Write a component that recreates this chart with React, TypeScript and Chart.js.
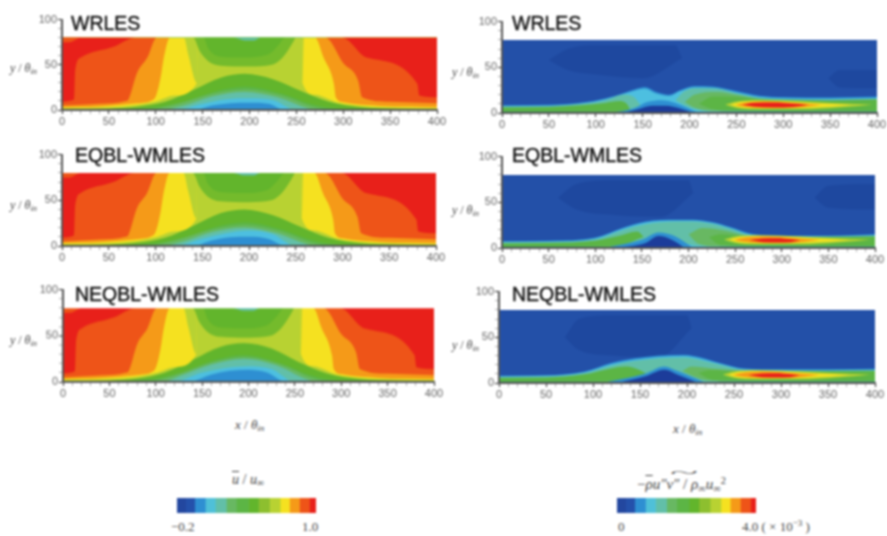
import React, { useEffect, useRef } from "react";
import { Chart, registerables } from "chart.js";
Chart.register(...registerables);

type P = [number, number];
type Layer = { c: string; up: P[]; to?: number; low?: P[] };

const C0 = "#1c3c9a", C1 = "#2350a8", CB = "#1e489f", C2 = "#2e8fd2", C3 = "#4dbfe0", C4 = "#62bfa8", C5 = "#68b862",
  C6 = "#5cb545", C7 = "#62b52c", C8 = "#74bb2c", C9 = "#b8d232", C10 = "#f5e120", C11 = "#f59a18", C12 = "#ee5418", C13 = "#e8201a";
const barColors = ["#23479f", "#2451ab", C2, "#4fc0d8", C4, C5, C6, C7, "#8dbf2f", C9, C10, C11, C12, C13];
const uEdges = [-0.2, -0.125, -0.047, 0.045, 0.131, 0.226, 0.312, 0.418, 0.504, 0.599, 0.691, 0.771, 0.857, 0.943, 1.0];
const stressEdges = [0, 0.25, 0.51, 0.82, 1.11, 1.43, 1.72, 2.07, 2.36, 2.68, 2.99, 3.26, 3.55, 3.84, 4.0];

/* mean velocity: outer contour lines */
const yellowLow: P[] = [[0,2],[50,3],[80,5.5],[100,9.5],[120,16],[144,30],[144.5,80],[256,80],[256.5,30],[270,17],[295,8],[320,4.5],[360,2.5],[400,2]];
const wedge: P[] = [[0,80],[130,80],[135,60],[144,30],[144.5,80],[256,80],[256.5,30],[258,80],[400,80]];
const orangeLow: P[] = [[0,3],[40,4],[80,7.5],[98,12],[101,18],[105,35],[109,60],[115,80],[270,80],[279,58],[290,29],[292,14],[300,8.5],[340,4.5],[400,3]];
const dkOrangeLow: P[] = [[0,5],[40,7],[68,10],[71,12],[80,41],[91,58],[101,80],[281,80],[300,52],[316,32],[320,14],[350,9],[400,7.5]];
const redLow: P[] = [[0,9],[12,11],[13,14],[14,43],[20,58],[55,70],[78,80],[299,80],[325,58],[379,29],[381,16],[400,14]];
const cornerLow: P[] = [[0,75],[8,75],[20,80],[400,80]];
const dome1: P[] = [[0,80],[140,80],[147,65],[156,54],[169,49],[200,48],[224,50],[236,59],[247,76],[249,80],[400,80]];
const dome2: P[] = [[0,80],[151,80],[156,68],[169,59],[194,58],[219,61],[231,72],[238,80],[400,80]];
const dome3: P[] = [[0,80],[183,80],[195,77],[205,77],[212,80],[400,80]];

/* mean velocity: inner contour lines per case */
const wr_blue: P[] = [[0,0],[140,0],[160,5],[180,7.5],[200,8],[220,7],[238,0],[400,0]];
const wr_cyan: P[] = [[0,0],[120,0],[150,7],[175,12],[200,13],[225,11],[250,0],[400,0]];
const wr_teal: P[] = [[0,0],[105,0],[130,5],[160,15],[195,20],[230,14],[262,2],[275,0],[400,0]];
const wr_g1: P[] = [[0,0],[90,0],[120,6],[160,18],[195,23],[235,16],[270,3],[290,0],[400,0]];
const wr_g2: P[] = [[0,0.3],[70,1],[100,3],[130,9],[165,21],[195,26],[235,18],[265,7],[295,1.5],[330,0.5],[400,0.3]];
const wr_g3: P[] = [[0,1],[50,1.5],[80,3.5],[110,9],[140,22],[170,36],[195,40],[225,34],[255,21],[285,9],[320,3],[360,1.5],[400,1]];
const eq_blue: P[] = [[0,0],[140,0],[160,6],[180,9.5],[200,10],[220,8],[240,0],[400,0]];
const eq_cyan: P[] = [[0,0],[120,0],[150,8],[175,14],[200,17],[225,13],[250,0],[400,0]];
const ne_blue: P[] = [[0,0],[135,0],[160,8],[180,12],[200,13],[220,10],[240,0],[400,0]];
const ne_cyan: P[] = [[0,0],[118,0],[150,10],[175,15],[200,17],[225,14],[250,0],[400,0]];
const ne_teal: P[] = [[0,0],[105,0],[130,8],[160,19],[195,25],[230,18],[262,3],[275,0],[400,0]];
const ne_g1: P[] = [[0,0],[90,0],[120,7],[160,21],[195,27],[235,19],[270,4],[290,0],[400,0]];
const ne_g2: P[] = [[0,0.3],[70,1],[100,3.5],[130,11],[165,24],[195,29],[235,20],[265,8],[295,1.5],[330,0.5],[400,0.3]];
const ne_g3: P[] = [[0,1],[50,1.5],[80,3.5],[110,10],[140,24],[170,38],[195,42],[225,36],[255,21],[285,9],[320,3],[360,1.5],[400,1]];

/* shear stress: shared streak core */
const greenWall: P[] = [[0,1.5],[120,1.2],[128,0],[220,0],[235,1.5],[400,1.5]];
const yg_u: P[] = [[238,9],[250,12.5],[275,14],[300,13.5],[340,11.5],[385,9.5],[395,9]];
const yg_l: P[] = [[238,9],[250,5.5],[275,4],[320,4],[360,6],[395,9]];
const ye_u: P[] = [[244,9],[255,12],[280,13],[310,12],[345,10],[373,9]];
const ye_l: P[] = [[244,9],[255,6],[285,5],[320,5.5],[350,7],[373,9]];
const or_u: P[] = [[249,8.8],[262,11.5],[285,12.5],[310,11],[341,9]];
const or_l: P[] = [[249,8.8],[262,6.5],[285,5.5],[315,6],[341,9]];
const re_u: P[] = [[256,9],[270,11.2],[290,11.5],[310,10.3],[327,9]];
const re_l: P[] = [[256,9],[270,6.8],[290,6],[310,6.6],[327,9]];
const re3_u: P[] = [[265,8.5],[280,10.5],[295,10.8],[310,9.6],[320,8.5]];
const re3_l: P[] = [[265,8.5],[280,6.4],[295,6],[310,6.4],[320,8.5]];

const full: P[] = [[0,80],[400,80]];
const blobU1: P[] = [[50,58],[70,70],[100,74],[185,74],[192,60]];
const blobL1: P[] = [[50,58],[70,47],[100,42],[150,38],[192,60]];
const blobU2: P[] = [[60,55],[80,70],[120,74],[200,74],[205,60]];
const blobL2: P[] = [[60,55],[80,42],[120,36],[170,34],[205,60]];
const blobU3: P[] = [[70,50],[85,70],[120,74],[200,74],[205,60]];
const blobL3: P[] = [[70,50],[85,36],[120,30],[170,28],[205,60]];
const farU: P[] = [[348,38],[360,47],[400,47]];
const farL: P[] = [[348,38],[360,28],[400,27]];
const far2U: P[] = [[335,55],[350,68],[400,70]];
const far2L: P[] = [[335,55],[350,44],[400,42]];

const r1_hill: P[] = [[0,8.5],[50,9],[85,11.5],[110,16],[130,22],[145,27],[152,28.5],[165,23],[178,20],[190,25],[205,29.5],[225,29],[250,24],[275,19],[300,17.5],[350,17],[400,18]];
const r1_cyan: P[] = [[0,7.5],[50,8],[85,10.5],[110,15],[130,21],[145,25.5],[152,26.5],[165,21],[178,18.5],[190,24],[205,28],[225,27.5],[250,22.5],[275,17.5],[300,16],[350,15.5],[400,16.5]];
const r1_tealLU: P[] = [[0,7],[50,7.5],[85,10],[110,14],[130,20],[140,18],[150,5]];
const r1_tealLL: P[] = [[0,1.5],[125,1.2],[150,5]];
const r1_greenLU: P[] = [[0,6],[50,6.5],[85,8.5],[110,11],[125,13],[133,10],[137,3]];
const r1_greenLL: P[] = [[0,1.5],[125,1.5],[137,3]];
const r1_ring: P[] = [[115,0],[140,5],[155,12],[170,14],[185,11],[210,0]];
const r1_dark: P[] = [[130,0],[145,4],[160,8],[175,8],[190,5],[205,0]];
const r1_tealU: P[] = [[185,14],[195,24],[210,27],[230,26.5],[250,21.5],[275,16.5],[300,15],[350,14.5],[400,15.5]];
const r1_tealL: P[] = [[185,14],[195,8],[205,4],[225,1.5],[400,1.5]];
const r1_g1U: P[] = [[195,12],[205,20],[230,23],[250,20],[275,15.5],[300,14.5],[350,14],[400,15]];
const r1_g1L: P[] = [[195,12],[205,6],[225,2.5],[400,2]];
const r1_g2U: P[] = [[210,10],[225,18],[250,17.5],[275,15],[300,14],[350,13.5],[400,14.5]];
const r1_g2L: P[] = [[210,10],[222,5],[240,2.5],[400,2]];

const r2_hill: P[] = [[0,7.5],[50,8],[100,11.5],[129,22],[154,29],[186,31],[205,31],[225,28.5],[245,23],[268,15.5],[296,13.5],[350,13.5],[400,15]];
const r2_cyan: P[] = [[0,6.8],[50,7.2],[100,10.5],[129,21],[154,28],[186,30],[205,30],[225,27.5],[245,22],[268,14.5],[296,12.8],[350,12.8],[400,14]];
const r2_tealU: P[] = [[0,6],[50,6.5],[100,9.5],[129,19.5],[154,26],[186,29],[205,29],[225,26.5],[245,21],[268,13.7],[296,12.2],[350,12.2],[400,13.3]];
const r2_tealL: P[] = [[0,1.5],[120,1.2],[150,8],[168,15],[185,11],[200,4],[225,1.5],[400,1.5]];
const r2_gLU: P[] = [[0,5],[50,5.5],[100,8],[125,13],[145,18],[152,12]];
const r2_gLL: P[] = [[0,1.5],[120,1.5],[152,12]];
const r2_g1U: P[] = [[200,15],[215,22],[240,19],[268,12.5],[296,11.8],[400,12.8]];
const r2_g1L: P[] = [[200,15],[210,5],[230,2],[400,2]];
const r2_g2U: P[] = [[222,12],[235,15],[255,13.5],[280,12],[330,11.5],[400,12.2]];
const r2_g2L: P[] = [[222,12],[232,4],[245,2.5],[400,2]];
const r2_ring: P[] = [[110,0],[150,9],[168,17],[185,13],[205,0]];
const r2_dark: P[] = [[121,0],[154,5.5],[168,13],[182,9],[196,0]];

const r3_hill: P[] = [[0,8],[50,8.5],[91,12.7],[119,22],[144,27],[170,30],[197,31],[215,28],[235,22],[261,16],[297,15],[350,15],[400,15.5]];
const r3_cyan: P[] = [[0,7.2],[50,7.8],[91,11.8],[119,20.5],[144,25.5],[170,28.5],[197,29.5],[215,26.5],[235,21],[261,15],[297,14],[350,14],[400,14.5]];
const r3_tealU: P[] = [[0,6.5],[50,7],[91,11],[119,19],[144,24],[170,27],[197,28],[215,25],[235,20],[261,14.2],[297,13.5],[350,13.5],[400,14]];
const r3_tealL: P[] = [[0,1.5],[125,1.2],[155,9],[176,17],[190,11],[212,2],[230,1.5],[400,1.5]];
const r3_gLU: P[] = [[0,5.5],[50,6],[91,9.5],[119,16],[135,18],[150,14],[160,8]];
const r3_gLL: P[] = [[0,1.5],[130,1.5],[160,8]];
const r3_g1U: P[] = [[195,13],[205,18],[226,16],[261,13.5],[297,13],[400,13.5]];
const r3_g1L: P[] = [[195,13],[215,4],[235,2],[400,2]];
const r3_g2U: P[] = [[212,11],[225,14],[250,13],[297,12.5],[400,13]];
const r3_g2L: P[] = [[212,11],[225,4],[240,2.5],[400,2]];
const r3_ring: P[] = [[110,0],[155,10],[176,18],[190,13],[220,0]];
const r3_dark: P[] = [[127,0],[155,7],[176,14.5],[190,9],[212,0]];

const uLayers = (blue: P[], cyan: P[], teal: P[], g1: P[], g2: P[], g3: P[]): Layer[] => [
  { c: C2, up: full, to: 0 },
  { c: C3, up: blue, to: 80 },
  { c: C4, up: cyan, to: 80 },
  { c: C5, up: teal, to: 80 },
  { c: C6, up: g1, to: 80 },
  { c: C7, up: g2, to: 80 },
  { c: C9, up: g3, to: 80 },
  { c: C10, up: yellowLow, to: 80 },
  { c: C9, up: wedge, to: 80 },
  { c: C11, up: orangeLow, to: 80 },
  { c: C12, up: dkOrangeLow, to: 80 },
  { c: C13, up: redLow, to: 80 },
  { c: C12, up: cornerLow, to: 80 },
  { c: C8, up: dome1, to: 80 },
  { c: C7, up: dome2, to: 80 },
  { c: C4, up: dome3, to: 80 },
];

const streak = (red: [P[], P[]]): Layer[] => [
  { c: C9, up: yg_u, low: yg_l },
  { c: C10, up: ye_u, low: ye_l },
  { c: C11, up: or_u, low: or_l },
  { c: C13, up: red[0], low: red[1] },
];

const panels = [
  { title: "WRLES", tx: 71, ty: 14, lx: 30, ly: 68, x0: 62, x1: 437, y0: 110, y1: 18, layers: uLayers(wr_blue, wr_cyan, wr_teal, wr_g1, wr_g2, wr_g3) },
  { title: "EQBL-WMLES", tx: 75, ty: 146, lx: 30, ly: 205, x0: 62, x1: 436, y0: 246, y1: 153, layers: uLayers(eq_blue, eq_cyan, wr_teal, wr_g1, wr_g2, wr_g3) },
  { title: "NEQBL-WMLES", tx: 75, ty: 285, lx: 30, ly: 340, x0: 63, x1: 434, y0: 381.7, y1: 288, layers: uLayers(ne_blue, ne_cyan, ne_teal, ne_g1, ne_g2, ne_g3) },
  { title: "WRLES", tx: 512, ty: 14, lx: 472, ly: 72, x0: 501.7, x1: 876.7, y0: 113, y1: 20, layers: [
    { c: C1, up: full, to: 0 }, { c: CB, up: blobU1, low: blobL1 }, { c: CB, up: farU, low: farL },
    { c: C2, up: r1_hill, to: 0 }, { c: C3, up: r1_cyan, to: 0 },
    { c: C4, up: r1_tealLU, low: r1_tealLL }, { c: C6, up: r1_greenLU, low: r1_greenLL },
    { c: C2, up: r1_ring, to: 0 }, { c: C0, up: r1_dark, to: 0 },
    { c: C4, up: r1_tealU, low: r1_tealL }, { c: C5, up: r1_g1U, low: r1_g1L }, { c: C6, up: r1_g2U, low: r1_g2L },
    ...streak([re_u, re_l]), { c: "#178a50", up: greenWall, to: 0 },
  ] as Layer[] },
  { title: "EQBL-WMLES", tx: 512, ty: 146, lx: 472, ly: 210, x0: 501.7, x1: 875, y0: 248, y1: 155, layers: [
    { c: C1, up: full, to: 0 }, { c: CB, up: blobU2, low: blobL2 }, { c: CB, up: far2U, low: far2L },
    { c: C2, up: r2_hill, to: 0 }, { c: C3, up: r2_cyan, to: 0 },
    { c: C4, up: r2_tealU, low: r2_tealL }, { c: C6, up: r2_gLU, low: r2_gLL },
    { c: C2, up: r2_ring, to: 0 }, { c: C0, up: r2_dark, to: 0 },
    { c: C5, up: r2_g1U, low: r2_g1L }, { c: C6, up: r2_g2U, low: r2_g2L },
    ...streak([re3_u, re3_l]), { c: "#178a50", up: greenWall, to: 0 },
  ] as Layer[] },
  { title: "NEQBL-WMLES", tx: 512, ty: 285, lx: 472, ly: 345, x0: 499, x1: 875, y0: 383, y1: 290, layers: [
    { c: C1, up: full, to: 0 }, { c: CB, up: blobU3, low: blobL3 },
    { c: C2, up: r3_hill, to: 0 }, { c: C3, up: r3_cyan, to: 0 },
    { c: C4, up: r3_tealU, low: r3_tealL }, { c: C6, up: r3_gLU, low: r3_gLL },
    { c: C2, up: r3_ring, to: 0 }, { c: C0, up: r3_dark, to: 0 },
    { c: C5, up: r3_g1U, low: r3_g1L }, { c: C6, up: r3_g2U, low: r3_g2L },
    ...streak([re3_u, re3_l]), { c: "#178a50", up: greenWall, to: 0 },
  ] as Layer[] },
];

const tickFont = { family: "'Liberation Sans', Arial, sans-serif", size: 11 };

function makeDatasets(layers: Layer[]) {
  const out: any[] = [];
  layers.forEach((l) => {
    const base = { borderWidth: 0, pointRadius: 0, cubicInterpolationMode: "monotone" };
    if (l.low) {
      const n = out.length;
      out.push({ ...base, data: l.up.map(([x, y]) => ({ x, y })), fill: "+1", backgroundColor: l.c, order: 1000 - n });
      out.push({ ...base, data: l.low.map(([x, y]) => ({ x, y })), fill: false, order: 1000 - n - 1 });
    } else {
      const n = out.length;
      out.push({ ...base, data: l.up.map(([x, y]) => ({ x, y })), fill: { target: { value: l.to } }, backgroundColor: l.c, order: 1000 - n });
    }
  });
  return out;
}

const LEFT = 44, TOP = 6, RIGHT = 11, BOTTOM = 20;

function Panel({ p }: { p: (typeof panels)[number] }) {
  const ref = useRef<HTMLCanvasElement>(null);
  useEffect(() => {
    const axis = (max: number, step: number) => ({
      type: "linear", min: 0, max,
      ticks: {
        stepSize: step, autoSkip: false, maxRotation: 0, padding: 1, color: "#666", font: tickFont,
        callback: (v: number) => (v % 50 === 0 ? String(v) : ""),
      },
      grid: {
        drawOnChartArea: false, drawTicks: true, tickLength: 4, z: 1,
        tickColor: (c: any) => (c.tick && c.tick.value % 50 === 0 ? "#444" : "#999"),
        tickWidth: (c: any) => (c.tick && c.tick.value % 50 === 0 ? 1.2 : 0.8),
      },
      border: { display: true, color: "#555", width: 2, z: 1 },
    });
    const chart = new Chart(ref.current!, {
      type: "line",
      data: { datasets: makeDatasets(p.layers) },
      options: {
        animation: false, responsive: false, parsing: true,
        layout: { padding: { top: TOP, right: RIGHT, left: 0, bottom: 0 } },
        plugins: { legend: { display: false }, tooltip: { enabled: false } },
        scales: {
          x: { ...axis(400, 10), afterFit: (s: any) => { s.height = BOTTOM; } },
          y: { ...axis(100, 10), afterFit: (s: any) => { s.width = LEFT; } },
        },
      } as any,
    } as any);
    return () => chart.destroy();
  }, [p]);
  const w = p.x1 - p.x0 + LEFT + RIGHT;
  const h = p.y0 - p.y1 + TOP + BOTTOM;
  return <canvas ref={ref} width={w} height={h} style={{ position: "absolute", left: p.x0 - LEFT, top: p.y1 - TOP, width: w, height: h }} />;
}

function ColorBar({ edges, left }: { edges: number[]; left: number }) {
  const ref = useRef<HTMLCanvasElement>(null);
  useEffect(() => {
    const chart = new Chart(ref.current!, {
      type: "bar",
      data: {
        labels: [""],
        datasets: barColors.map((c, i) => ({ data: [[edges[i], edges[i + 1]]], backgroundColor: c, borderWidth: 0, barPercentage: 1, categoryPercentage: 1, grouped: false })),
      },
      options: {
        indexAxis: "y", animation: false, responsive: false,
        plugins: { legend: { display: false }, tooltip: { enabled: false } },
        scales: {
          x: { display: false, min: edges[0], max: edges[edges.length - 1] },
          y: { display: false },
        },
      } as any,
    } as any);
    return () => chart.destroy();
  }, []);
  return <canvas ref={ref} width={139} height={15} style={{ position: "absolute", left, top: 498, width: 139, height: 15 }} />;
}

const serif: React.CSSProperties = { position: "absolute", fontFamily: "'Liberation Serif', serif", color: "#444", whiteSpace: "nowrap", lineHeight: 1 };
const subS: React.CSSProperties = { fontSize: "0.7em", verticalAlign: "-0.25em", lineHeight: 0 };
const supS: React.CSSProperties = { fontSize: "0.7em", verticalAlign: "0.5em", lineHeight: 0 };

export default function App() {
  return (
    <div style={{ position: "fixed", left: 0, top: 0, width: 887, height: 536, overflow: "hidden", background: "#fff", filter: "blur(0.9px)" }}>
      {panels.map((p, i) => <Panel key={i} p={p} />)}
      {panels.map((p, i) => (
        <div key={"t" + i} style={{ position: "absolute", left: p.tx, top: p.ty, fontFamily: "'Liberation Sans', Arial, sans-serif", fontSize: 19.5, color: "#111", lineHeight: 1, whiteSpace: "nowrap", WebkitTextStroke: "0.4px #111" }}>{p.title}</div>
      ))}
      {panels.map((p, i) => (
        <div key={"y" + i} style={{ ...serif, fontSize: 12, right: 887 - p.lx - 7, top: p.ly - 6 }}>
          <i>y</i> / <i>θ</i><span style={subS}><i>in</i></span>
        </div>
      ))}
      <div style={{ ...serif, fontSize: 13, left: 235, top: 418 }}><i>x</i> / <i>θ</i><span style={subS}><i>in</i></span></div>
      <div style={{ ...serif, fontSize: 13, left: 673, top: 422 }}><i>x</i> / <i>θ</i><span style={subS}><i>in</i></span></div>
      <div style={{ ...serif, fontSize: 14, left: 232, top: 473 }}>
        <i style={{ textDecoration: "overline" }}>u</i> / <i>u</i><span style={subS}><i>∞</i></span>
      </div>
      <div style={{ ...serif, fontSize: 15, left: 637, top: 477 }}>
        −<i style={{ textDecoration: "overline" }}>ρ</i><i>u″v″</i> / <i>ρ</i><span style={subS}><i>∞</i></span><i>u</i><span style={subS}><i>∞</i></span><span style={supS}>2</span>
      </div>
      <div style={{ ...serif, fontSize: 13, left: 670, top: 466, transform: "scaleX(4)", transformOrigin: "left top" }}>~</div>
      <ColorBar edges={uEdges} left={177} />
      <ColorBar edges={stressEdges} left={617} />
      <div style={{ ...serif, fontSize: 13, left: 171, top: 520 }}>−0.2</div>
      <div style={{ ...serif, fontSize: 13, left: 302, top: 520 }}>1.0</div>
      <div style={{ ...serif, fontSize: 13, left: 618, top: 520 }}>0</div>
      <div style={{ ...serif, fontSize: 13, left: 742, top: 520 }}>4.0 ( × 10<span style={supS}>−3</span> )</div>
    </div>
  );
}
